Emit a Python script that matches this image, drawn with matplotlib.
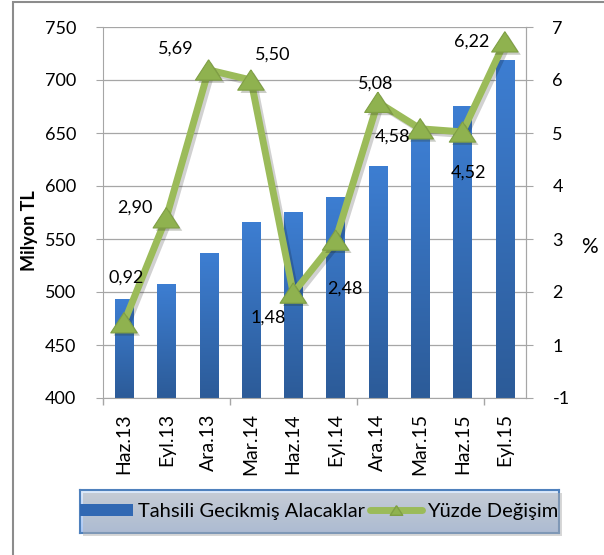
import numpy as np
import matplotlib
matplotlib.use("Agg")
import matplotlib.pyplot as plt
import matplotlib.patheffects as pe
from matplotlib.colors import LinearSegmentedColormap
from matplotlib.lines import Line2D
from matplotlib.patches import Rectangle
from matplotlib.ticker import FuncFormatter, FixedLocator, MultipleLocator

plt.rcParams['font.family'] = ['Lato', 'DejaVu Sans']

# ---------------------------------------------------------------------------
# Data
# ---------------------------------------------------------------------------
periods = ["Haz.13", "Eyl.13", "Ara.13", "Mar.14", "Haz.14",
           "Eyl.14", "Ara.14", "Mar.15", "Haz.15", "Eyl.15"]
receivables = [493, 507, 536, 566, 575, 589, 618, 646, 675, 718]   # Milyon TL
pct_change = [0.92, 2.90, 5.69, 5.50, 1.48, 2.48, 5.08, 4.58, 4.52, 6.22]  # %

bar_name = "Tahsili Gecikmiş Alacaklar"
line_name = "Yüzde Değişim"

# label placement around each point (pixels)
label_offsets = [(2, 45), (-31, 10), (-33, 21), (22, 25), (-25, -25),
                 (9, -49), (-2, 19), (-28, -8), (6, -41), (-33, 0)]

GREEN = "#9bbb59"
MARKER_GREEN = "#8fb24f"
GRID = "#a6a6a6"
FS = 13
Y_MIN, Y_MAX = 400, 750

W, H, DPI = 604, 555, 100
fig = plt.figure(figsize=(W / DPI, H / DPI), dpi=DPI)

# chart border (runs off the right/bottom edge)
fig.patches.append(Rectangle((13 / W, -0.05), 1.0, 1 - 1.5 / H + 0.05,
                             transform=fig.transFigure, fill=False,
                             ec="#8c8c8c", lw=1.5))

ax = fig.add_axes([102.8 / W, 1 - 398 / H, 423.2 / W, 371 / H])
x = np.arange(len(periods))

# bars with vertical gradient (image covers only the visible part of each bar)
bars = ax.bar(x, receivables, width=0.43, color="#3470bd", zorder=2)
grad = np.linspace(0, 1, 256).reshape(-1, 1)
bar_cmap = LinearSegmentedColormap.from_list("bar", ["#2c5b98", "#3d7ed2"])
for b in bars:
    x0 = b.get_x()
    y0 = max(b.get_y(), Y_MIN)
    ax.imshow(grad, cmap=bar_cmap, origin="lower", aspect="auto",
              extent=[x0, x0 + b.get_width(), y0, b.get_y() + b.get_height()],
              zorder=2.1)

ax.set_xlim(-0.5, len(periods) - 0.5)
ax.set_ylim(Y_MIN, Y_MAX)
ax.yaxis.set_major_locator(MultipleLocator(50))
ax.set_axisbelow(True)
ax.grid(axis="y", color=GRID, lw=0.9)
ax.set_xticks(x)
ax.set_xticklabels(periods, rotation=90, fontsize=14)
ax.xaxis.set_minor_locator(FixedLocator([-0.5, 2.5, 5.5, 8.5]))
ax.tick_params(axis="x", which="major", length=0, pad=11)
ax.tick_params(axis="x", which="minor", length=5, color=GRID, width=1)
ax.tick_params(axis="y", labelsize=FS, length=5, color=GRID, pad=14)
ax.spines["top"].set_visible(False)
for s in ["left", "bottom", "right"]:
    ax.spines[s].set_color(GRID)
ax.set_ylabel("Milyon TL", fontsize=FS, fontweight="bold")
ax.yaxis.set_label_coords(-0.153, 0.45)

# secondary axis for percent change
ax2 = ax.twinx()
ax2.set_ylim(-0.5, 6.5)
ax2.yaxis.set_major_locator(FixedLocator(np.arange(-0.5, 7.0, 1.0)))
ax2.yaxis.set_major_formatter(
    FuncFormatter(lambda v, _: f"{int(np.sign(v) * np.floor(abs(v) + 0.5))}"))
ax2.tick_params(axis="y", labelsize=FS, length=5, color=GRID, pad=14)
for s in ["top", "left", "bottom"]:
    ax2.spines[s].set_visible(False)
ax2.spines["right"].set_color(GRID)
ax2.set_ylabel("%", fontsize=FS + 2, rotation=0, va="center", ha="center")
ax2.yaxis.set_label_coords(1.151, 0.407)

tri = [(0, 0.77), (-1, -0.77), (1, -0.77), (0, 0.77)]
ax2.plot(x, pct_change, color=GREEN, lw=5, solid_joinstyle="miter", zorder=3,
         path_effects=[pe.SimpleLineShadow(offset=(2, -2), alpha=0.18,
                                           shadow_color="k"), pe.Normal()])
ax2.plot(x, pct_change, ls="none", marker=tri, ms=19, mfc=MARKER_GREEN,
         mec="#7f9f44", mew=0.8, zorder=4,
         path_effects=[pe.SimplePatchShadow(offset=(2, -2), alpha=0.25),
                       pe.Normal()])

for xi, v, off in zip(x, pct_change, label_offsets):
    ax2.annotate(f"{v:.2f}".replace(".", ","), (xi, v), xytext=off,
                 textcoords="offset pixels", ha="center", va="center",
                 fontsize=FS, zorder=5)

# legend box with gradient fill and shadow
lx, ly, lw_, lh = 80, 490, 479, 43
fig.patches.append(Rectangle(((lx + 3) / W, 1 - (ly + lh + 3) / H), lw_ / W, lh / H,
                             transform=fig.transFigure, fc="#b0b0b0",
                             ec="none", alpha=0.5, zorder=0))
lax = fig.add_axes([lx / W, 1 - (ly + lh) / H, lw_ / W, lh / H])
leg_cmap = LinearSegmentedColormap.from_list("leg", ["#a9c7f5", "#e0ebfb"])
lax.imshow(grad, cmap=leg_cmap, origin="lower", aspect="auto",
           extent=[0, 1, 0, 1])
lax.set_xticks([])
lax.set_yticks([])
for s in lax.spines.values():
    s.set_color("#4f81bd")
    s.set_linewidth(1.5)

handles = [
    Rectangle((0, 0), 1, 1, fc="#3168b3", ec="none"),
    Line2D([], [], color=GREEN, lw=5, solid_capstyle="round", marker=tri,
           ms=9, mfc=MARKER_GREEN, mec="#7f9f44"),
]
fig.legend(handles, [bar_name, line_name], loc="center",
           bbox_to_anchor=((lx + lw_ / 2) / W, 1 - (ly + lh / 2) / H),
           ncol=2, frameon=False, fontsize=14.5, handlelength=2.6,
           handleheight=0.6, handletextpad=0.25, columnspacing=0.25)

fig.savefig("out.png", dpi=DPI)
